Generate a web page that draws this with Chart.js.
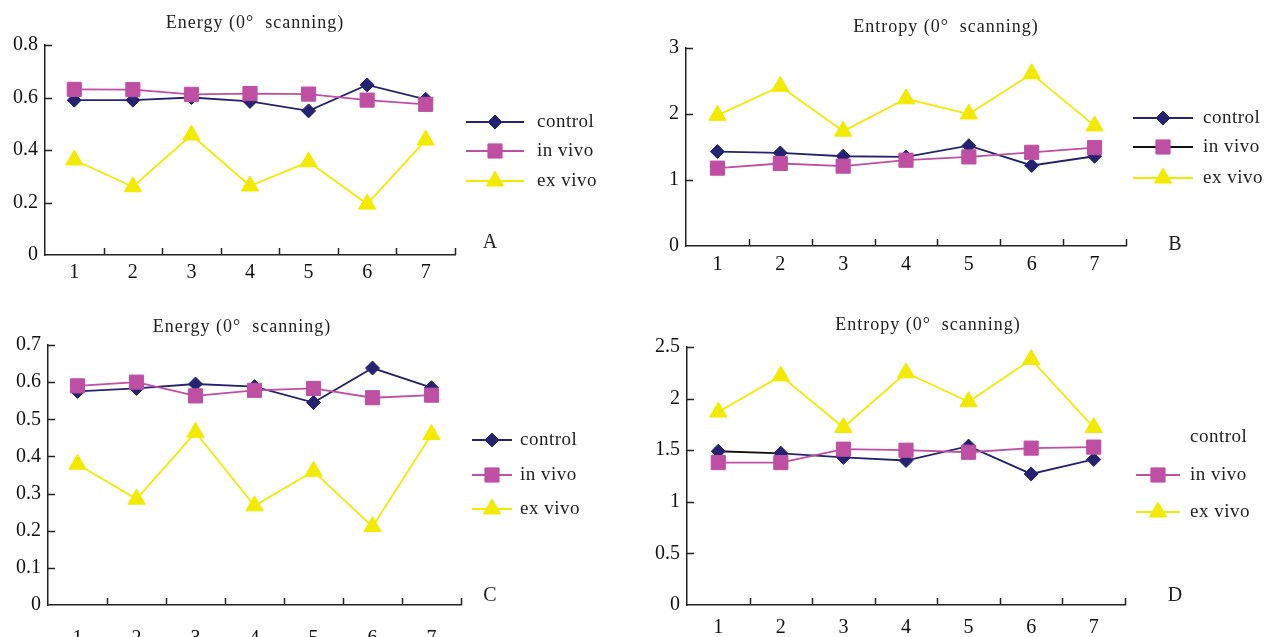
<!DOCTYPE html>
<html>
<head>
<meta charset="utf-8">
<script src="https://cdn.jsdelivr.net/npm/chart.js@4.4.1/dist/chart.umd.min.js"></script>
<style>
  body { margin: 0; background: #fff; }
  .panel { position: absolute; }
</style>
</head>
<body>
<div class="panel" style="left:0;top:0;width:633px;height:300px"><canvas id="chartA"></canvas></div>
<div class="panel" style="left:633px;top:0;width:633px;height:300px"><canvas id="chartB"></canvas></div>
<div class="panel" style="left:0;top:300px;width:633px;height:337px"><canvas id="chartC"></canvas></div>
<div class="panel" style="left:633px;top:300px;width:633px;height:337px"><canvas id="chartD"></canvas></div>

<script>
// categories and series
const xLabels = ['1', '2', '3', '4', '5', '6', '7'];
const seriesNames = ['control', 'in vivo', 'ex vivo'];

const energyA_control = [0.59, 0.59, 0.60, 0.585, 0.549, 0.648, 0.593];
const energyA_invivo  = [0.631, 0.63, 0.612, 0.615, 0.613, 0.59, 0.574];
const energyA_exvivo  = [0.362, 0.26, 0.457, 0.263, 0.355, 0.194, 0.438];
const yTicksA = [0, 0.2, 0.4, 0.6, 0.8];

const entropyB_control = [1.43, 1.41, 1.36, 1.35, 1.52, 1.22, 1.36];
const entropyB_invivo  = [1.18, 1.25, 1.21, 1.30, 1.35, 1.42, 1.49];
const entropyB_exvivo  = [1.98, 2.42, 1.74, 2.23, 2.0, 2.61, 1.82];
const yTicksB = [0, 1, 2, 3];

const energyC_control = [0.575, 0.583, 0.595, 0.588, 0.545, 0.638, 0.585];
const energyC_invivo  = [0.59, 0.60, 0.563, 0.578, 0.583, 0.558, 0.565];
const energyC_exvivo  = [0.379, 0.285, 0.465, 0.267, 0.36, 0.211, 0.459];
const yTicksC = [0, 0.1, 0.2, 0.3, 0.4, 0.5, 0.6, 0.7];

const entropyD_control = [1.49, 1.47, 1.43, 1.40, 1.54, 1.27, 1.41];
const entropyD_invivo  = [1.38, 1.38, 1.51, 1.50, 1.48, 1.52, 1.53];
const entropyD_exvivo  = [1.87, 2.22, 1.72, 2.25, 1.97, 2.38, 1.72];
const yTicksD = [0, 0.5, 1, 1.5, 2, 2.5];

const NAVY = '#25236f';
const PINK = '#be4fa2';
const YELLOW = '#f2ea00';
const FONT = "'Liberation Serif', 'Times New Roman', serif";

const markers = [
  { style: 'rectRot', radius: 7, color: NAVY },
  { style: 'rect', radius: 10, color: PINK },
  { style: 'triangle', radius: 10, color: YELLOW }
];

// inward ticks, title, legend and panel letter
const panelDecor = {
  id: 'panelDecor',
  afterDraw(chart, args, opts) {
    const { ctx, chartArea, scales } = chart;
    const x = scales.x, y = scales.y;
    ctx.save();
    ctx.strokeStyle = '#222';
    ctx.lineWidth = 1.5;
    ctx.beginPath();
    const n = xLabels.length;
    for (let i = 1; i <= n; i++) {
      const px = Math.round(x.left + i * (x.right - x.left) / n) + 0.5;
      ctx.moveTo(px, chartArea.bottom);
      ctx.lineTo(px, chartArea.bottom - 7);
    }
    y.ticks.forEach((t, i) => {
      if (i === 0) return;
      const py = Math.round(y.getPixelForTick(i)) + 0.5;
      ctx.moveTo(chartArea.left, py);
      ctx.lineTo(chartArea.left + 7, py);
    });
    ctx.stroke();

    ctx.fillStyle = '#222';
    ctx.letterSpacing = '1px';
    ctx.font = '18px ' + FONT;
    ctx.textAlign = 'center';
    ctx.textBaseline = 'middle';
    ctx.fillText(opts.title, opts.titleX, opts.titleY);

    ctx.letterSpacing = '0px';
    ctx.font = '20px ' + FONT;
    ctx.fillText(opts.letter, opts.letterX, opts.letterY);

    // legend
    const lg = opts.legend;
    ctx.font = '19px ' + FONT;
    ctx.letterSpacing = '0.5px';
    ctx.textAlign = 'left';
    seriesNames.forEach((name, i) => {
      const ly = lg.ys[i];
      if (!(lg.textOnly && lg.textOnly[i])) {
        ctx.strokeStyle = (lg.lineColors && lg.lineColors[i]) || markers[i].color;
        ctx.lineWidth = 2;
        ctx.beginPath();
        ctx.moveTo(lg.x0, ly);
        ctx.lineTo(lg.x1, ly);
        ctx.stroke();
        ctx.fillStyle = markers[i].color;
        ctx.strokeStyle = markers[i].color;
        ctx.lineWidth = 1;
        Chart.helpers.drawPoint(ctx, { pointStyle: markers[i].style, radius: markers[i].radius, rotation: 0, borderWidth: 1 },
          (lg.x0 + lg.x1) / 2, ly);
      }
      ctx.fillStyle = '#222';
      ctx.fillText(name, lg.tx, ly);
    });
    ctx.restore();
  }
};

function makeDataset(i, values, extra) {
  return Object.assign({
    label: seriesNames[i],
    data: values,
    borderColor: markers[i].color,
    backgroundColor: markers[i].color,
    borderWidth: 1.8,
    pointStyle: markers[i].style,
    pointRadius: markers[i].radius,
    pointHoverRadius: markers[i].radius,
    pointBorderWidth: 1,
    tension: 0,
    order: 3 - i
  }, extra || {});
}

function makePanel(id, series, yTicks, box, decor, extraCtrl) {
  const ymax = yTicks[yTicks.length - 1];
  return new Chart(document.getElementById(id), {
    type: 'line',
    data: {
      labels: xLabels,
      datasets: [
        makeDataset(0, series[0], extraCtrl),
        makeDataset(1, series[1]),
        makeDataset(2, series[2])
      ]
    },
    options: {
      responsive: true,
      maintainAspectRatio: false,
      animation: false,
      events: [],
      layout: { padding: { left: 0, right: box.padRight, top: box.padTop, bottom: 0 } },
      plugins: {
        legend: { display: false },
        tooltip: { enabled: false },
        panelDecor: decor
      },
      scales: {
        x: {
          type: 'category',
          offset: true,
          grid: { display: false, drawTicks: false, offset: true },
          border: { display: true, color: '#222', width: 1.5 },
          ticks: { color: '#111', font: { family: FONT, size: 20 }, padding: box.xPad, maxRotation: 0 },
          afterFit: s => { s.height = box.xHeight; }
        },
        y: {
          min: 0,
          max: ymax,
          grid: { display: false, drawTicks: false },
          border: { display: true, color: '#222', width: 1.5 },
          ticks: { color: '#111', font: { family: FONT, size: 20 }, padding: 7, callback: v => String(v) },
          afterBuildTicks: s => { s.ticks = yTicks.map(v => ({ value: v })); },
          afterFit: s => { s.width = box.yWidth; }
        }
      }
    },
    plugins: [panelDecor]
  });
}

makePanel('chartA', [energyA_control, energyA_invivo, energyA_exvivo], yTicksA,
  { padRight: 178, padTop: 45, xHeight: 45, yWidth: 45, xPad: 6 },
  { title: 'Energy (0°  scanning)', titleX: 255, titleY: 23, letter: 'A', letterX: 490, letterY: 243,
    legend: { x0: 466, x1: 524, tx: 537, ys: [122, 151, 181] } });

makePanel('chartB', [entropyB_control, entropyB_invivo, entropyB_exvivo], yTicksB,
  { padRight: 140, padTop: 48, xHeight: 54, yWidth: 53, xPad: 7 },
  { title: 'Entropy (0°  scanning)', titleX: 313, titleY: 27, letter: 'B', letterX: 542, letterY: 245,
    legend: { x0: 500, x1: 560, tx: 570, ys: [118, 147, 178], lineColors: [null, '#111', null] } });

makePanel('chartC', [energyC_control, energyC_invivo, energyC_exvivo], yTicksC,
  { padRight: 172, padTop: 45, xHeight: 32, yWidth: 48, xPad: 22 },
  { title: 'Energy (0°  scanning)', titleX: 242, titleY: 27, letter: 'C', letterX: 490, letterY: 296,
    legend: { x0: 472, x1: 512, tx: 520, ys: [140, 175, 209] } });

makePanel('chartD', [entropyD_control, entropyD_invivo, entropyD_exvivo], yTicksD,
  { padRight: 141, padTop: 47, xHeight: 32, yWidth: 54, xPad: 11 },
  { title: 'Entropy (0°  scanning)', titleX: 295, titleY: 25, letter: 'D', letterX: 542, letterY: 296,
    legend: { x0: 503, x1: 547, tx: 557, ys: [137, 175, 212], textOnly: [true, false, false] } },
  { segment: { borderColor: c => c.p0DataIndex === 0 ? '#111' : undefined } });
</script>
</body>
</html>
